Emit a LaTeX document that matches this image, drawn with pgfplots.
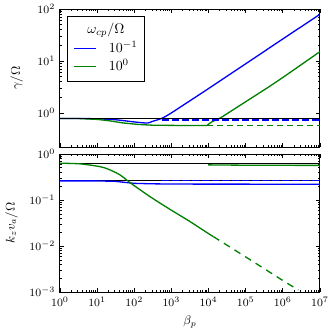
\documentclass[border=0pt]{standalone}
\usepackage{pgfplots}
\pgfplotsset{compat=1.18}
\definecolor{mplgreen}{rgb}{0,0.5,0}
\definecolor{mplblue}{rgb}{0,0,1}

\begin{document}
\begin{tikzpicture}
\useasboundingbox (-43.2pt,-28.8pt) rectangle (195.8pt,210.3pt);

% top panel: growth rate
\begin{loglogaxis}[
  scale only axis, width=187.2pt, height=99.4pt,
  xmin=1, xmax=1e7,
  xtick={1,10,100,1000,10000,100000,1000000,10000000},
  tick align=inside,
  major tick length=3pt, minor tick length=1.6pt,
  tick style={black, line width=0.5pt},
  axis line style={line width=0.7pt},
  tick label style={font=\fontsize{8}{9}\selectfont},
  label style={font=\fontsize{9}{10}\selectfont},
  name=top, at={(0,104.4pt)}, anchor=south west,
  ymin=0.22, ymax=100, ytick={1,10,100},
  xticklabels={},
  ylabel={$\gamma/\Omega$},
  y label style={at={(axis description cs:-0.166,0.5)}, anchor=center},
]
\addplot[draw=mplblue, line width=0.95pt, smooth] coordinates {
  (1,0.78)(3,0.78)(10,0.77)(30,0.74)(60,0.70)(100,0.67)(150,0.65)(234,0.64)
  (316,0.69)(562,0.79)(1000,1.0)(1995,1.38)(5888,2.29)(1e4,2.94)(1e5,8.8)(1e6,26.5)(1e7,79)};
\addplot[draw=mplgreen, line width=0.95pt] coordinates {
  (1,0.78)(3,0.78)(10,0.75)(20,0.71)(50,0.64)(100,0.61)(126,0.60)(300,0.58)
  (1000,0.575)(3000,0.57)(8913,0.57)(12589,0.68)(20417,0.79)(1e5,1.64)
  (371535,2.99)(1e6,4.8)(1e7,15.1)};
\addplot[draw=black, line width=0.8pt] coordinates {(1,0.795)(1e7,0.795)};
\addplot[draw=mplblue, line width=1.2pt, dash pattern=on 4.8pt off 2.4pt] coordinates {(562,0.74)(1e7,0.74)};
\addplot[draw=mplgreen, line width=1.1pt, dash pattern=on 4.8pt off 2.4pt] coordinates {(8913,0.57)(1e7,0.57)};
% legend
\node[draw=black, line width=0.6pt, fill=white, anchor=north west, inner xsep=5pt, inner ysep=4pt,
  font=\fontsize{10}{12}\selectfont]
  at (axis description cs:0.026,0.949) {%
  \begin{tabular}{@{}c@{\hspace{9pt}}l@{}}
  \multicolumn{2}{c}{$\omega_{cp}/\Omega$}\\[1.5pt]
  \textcolor{mplblue}{\rule[0.6ex]{16pt}{0.9pt}} & $10^{-1}$\\[1pt]
  \textcolor{mplgreen}{\rule[0.6ex]{16pt}{0.9pt}} & $10^{0}$
  \end{tabular}};
\end{loglogaxis}

% bottom panel: wavenumber
\begin{loglogaxis}[
  scale only axis, width=187.2pt, height=99.4pt,
  xmin=1, xmax=1e7,
  xtick={1,10,100,1000,10000,100000,1000000,10000000},
  tick align=inside,
  major tick length=3pt, minor tick length=1.6pt,
  tick style={black, line width=0.5pt},
  axis line style={line width=0.7pt},
  tick label style={font=\fontsize{8}{9}\selectfont},
  label style={font=\fontsize{9}{10}\selectfont},
  name=bot, at={(0,0)}, anchor=south west,
  ymin=1e-3, ymax=1, ytick={0.001,0.01,0.1,1},
  xlabel={$\beta_p$},
  ylabel={$k_z v_a/\Omega$},
  y label style={at={(axis description cs:-0.187,0.5)}, anchor=center},
  x label style={at={(axis description cs:0.5,-0.217)}, anchor=center},
]
\addplot[draw=black, line width=0.8pt] coordinates {(1,0.63)(1e7,0.63)};
\addplot[draw=black, line width=0.8pt] coordinates {(1,0.265)(1e7,0.265)};
\addplot[draw=mplblue, line width=1.2pt, dash pattern=on 4.8pt off 2.4pt] coordinates {(562,0.265)(1e7,0.265)};
\addplot[draw=mplblue, line width=0.95pt] coordinates {
  (1,0.26)(10,0.26)(30,0.255)(60,0.24)(100,0.23)(300,0.225)(1000,0.222)(1e7,0.22)};
\addplot[draw=mplgreen, line width=0.95pt] coordinates {(9772,0.58)(1e5,0.57)(1e7,0.565)};
\addplot[draw=mplgreen, line width=0.95pt, smooth] coordinates {
  (1,0.63)(3.47,0.61)(12.0,0.53)(22.4,0.45)(41.7,0.35)(63.1,0.27)(95.5,0.21)
  (177.8,0.148)(269,0.1175)(501,0.085)(1000,0.060)(3162,0.034)(1e4,0.0186)(13490,0.016)};
\addplot[draw=mplgreen, line width=0.95pt, dash pattern=on 5pt off 4pt] coordinates {
  (13490,0.016)(1e5,0.0058)(1e6,0.00178)(2.63e6,0.0011)};
\end{loglogaxis}
\end{tikzpicture}
\end{document}
